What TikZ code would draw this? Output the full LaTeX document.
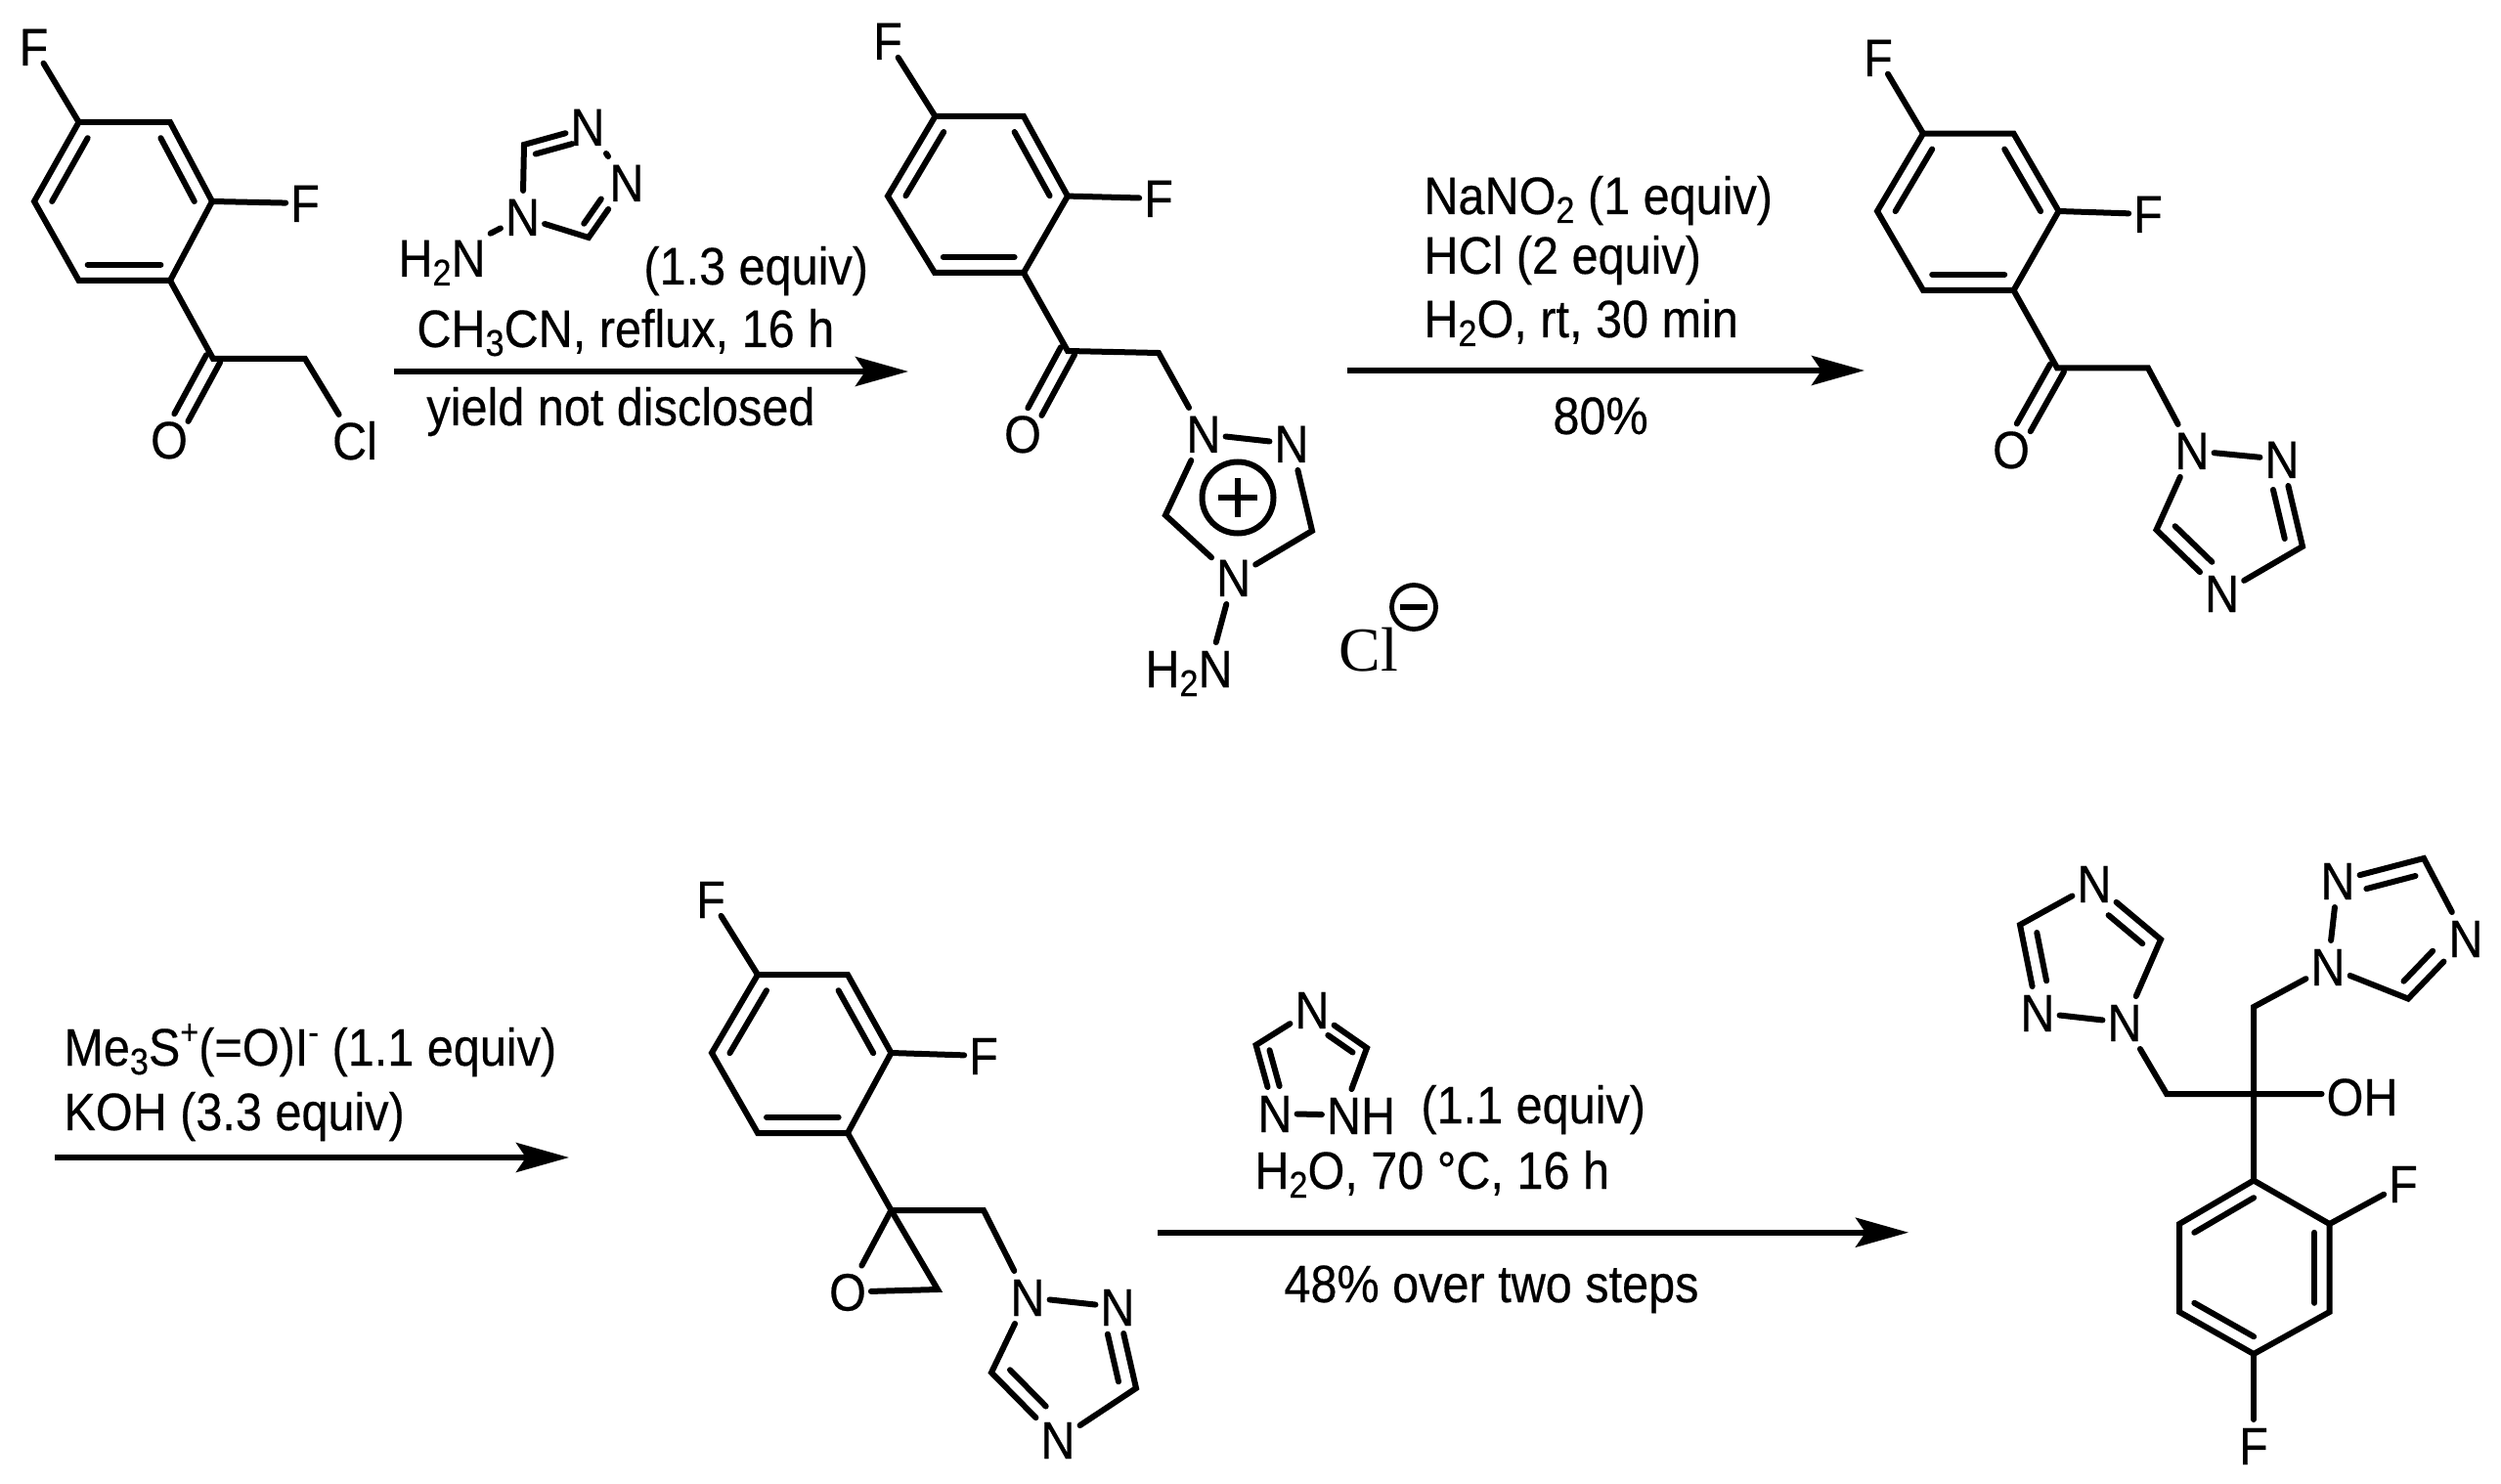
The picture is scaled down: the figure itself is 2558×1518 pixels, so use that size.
\documentclass[tikz,border=0pt]{standalone}
\usepackage{fontspec}
\setmainfont[FakeStretch=0.9,FakeBold=0.35]{Liberation Sans}
\newfontfamily\clfont{Liberation Serif}
\usetikzlibrary{calc,arrows.meta}
\newcommand{\mysub}[1]{\raisebox{-4.5pt}{\fontsize{19}{19}\selectfont #1}}
\newcommand{\mysup}[1]{\raisebox{11pt}{\fontsize{18}{18}\selectfont #1}}
% inner line of a double bond: from a, to b, pulled towards c by t, between fractions s and e
\newcommand{\innerbond}[6]{\draw[bond] ($($(#1)!#5!(#2)$)!#4!(#3)$) -- ($($(#1)!#6!(#2)$)!#4!(#3)$);}
\newcommand{\ringin}[3]{\innerbond{#1}{#2}{#3}{.2}{0}{1}}
\newcommand{\carbonyl}[2]{%
  \draw[bond,shorten >=13pt] ($(#1)!4pt!90:(#2)$) -- ($(#2)!4pt!-90:(#1)$);
  \draw[bond,shorten >=13pt] ($(#1)!4pt!-90:(#2)$) -- ($(#2)!4pt!90:(#1)$);}
\tikzset{
  bond/.style={line width=3pt,line cap=round,line join=miter},
  fbond/.style={bond,shorten >=-6pt},
  atom/.style={font=\fontsize{27}{27}\selectfont,inner xsep=2.5pt,inner ysep=4pt,text height=19pt,text depth=0pt,anchor=center,outer sep=0pt},
  label/.style={font=\fontsize{27}{27}\selectfont,inner sep=0pt,anchor=base west,yshift=-1.5pt},
  rxn/.style={line width=3pt,-{Stealth[length=27pt,width=15pt,inset=5pt]}},
  chargering/.style={circle,draw,inner sep=0pt,line width=3pt}
}
\begin{document}
\begin{tikzpicture}[x=.5pt,y=-.5pt]
\useasboundingbox (0,0) rectangle (2558,1518);
%%% molecule 1
\coordinate (a1) at (80.6,125); \coordinate (a2) at (174,125); \coordinate (a3) at (217,206);
\coordinate (a4) at (174,287); \coordinate (a5) at (80.6,287); \coordinate (a6) at (35,206);
\coordinate (ac) at (126,206); \coordinate (ak) at (218,367); \coordinate (am) at (312,367);
\node[atom] (aF1) at (34.5,48) {F};
\node[atom] (aF2) at (312,208) {F};
\node[atom] (aO) at (173,450) {O};
\node[atom] (aCl) at (363,451) {Cl};
\draw[bond] (a1)--(a2)--(a3)--(a4)--(a5)--(a6)--cycle;
\ringin{a1}{a6}{ac}\ringin{a2}{a3}{ac}\ringin{a4}{a5}{ac}
\draw[fbond] (a1)--(aF1);
\draw[bond] (a3)--(aF2);
\draw[bond] (a4)--(ak)--(am)--(aCl);
\carbonyl{ak}{aO}
%%% reagent 1
\coordinate (rc1) at (536,148); \coordinate (rc2) at (602,243); \coordinate (rc) at (583,186);
\node[atom] (rn1) at (601,130) {N};
\node[atom] (rn2) at (641,187) {N};
\node[atom] (rn3) at (534.5,222) {N};
\node[atom] (rh) at (452,264) {H\mysub{2}N};
\draw[bond] (rn3)--(rc1)--(rn1);
\draw[bond] (rn1)--(rn2);
\draw[bond] (rn2)--(rc2)--(rn3);
\draw[bond] (rn3)--(rh);
\innerbond{rc1}{rn1}{rc}{.25}{0}{.77}
\innerbond{rc2}{rn2}{rc}{.25}{0}{.6}
\node[label] (t1a) at (658,288) {(1.3 equiv)};
\node[label] (t1b) at (426,352) {CH\mysub{3}CN, reflux, 16 h};
\node[label] (t1c) at (436,432) {yield not disclosed};
\coordinate (ar1s) at (403,380); \coordinate (ar1e) at (929,380);
\draw[rxn] (ar1s)--(ar1e);
%%% molecule 2
\coordinate (b1) at (956.5,119); \coordinate (b2) at (1047,119); \coordinate (b3) at (1092,200.6);
\coordinate (b4) at (1047,279); \coordinate (b5) at (956,279); \coordinate (b6) at (908,200.6);
\coordinate (bc) at (1000,199); \coordinate (bk) at (1092,359); \coordinate (bm) at (1185,361);
\coordinate (bl) at (1192,527); \coordinate (br) at (1342,543);
\node[atom] (bF1) at (908,42) {F};
\node[atom] (bF2) at (1185,203) {F};
\node[atom] (bO) at (1046,444) {O};
\node[atom] (bn1) at (1231,444) {N};
\node[atom] (bn2) at (1321,454) {N};
\node[atom] (bn3) at (1261.6,591) {N};
\node[atom] (bh) at (1216,684) {H\mysub{2}N};
\draw[bond] (b1)--(b2)--(b3)--(b4)--(b5)--(b6)--cycle;
\ringin{b1}{b6}{bc}\ringin{b2}{b3}{bc}\ringin{b4}{b5}{bc}
\draw[fbond] (b1)--(bF1);
\draw[bond] (b3)--(bF2);
\draw[bond] (b4)--(bk)--(bm)--(bn1);
\carbonyl{bk}{bO}
\draw[bond] (bn1)--(bn2);
\draw[bond] (bn1)--(bl)--(bn3);
\draw[bond] (bn3)--(br)--(bn2);
\draw[bond] (bn3)--($(bh.north west)!.78!(bh.north east)$);
\node[chargering,minimum size=36.5pt] (bplus) at (1266,509) {};
\draw[line width=3pt] ($(bplus.west)!.25!(bplus.east)$)--($(bplus.west)!.75!(bplus.east)$);
\draw[line width=3pt] ($(bplus.north)!.25!(bplus.south)$)--($(bplus.north)!.75!(bplus.south)$);
\node[inner sep=0pt,anchor=base west,font=\clfont\fontsize{32}{32}\selectfont] (bCl) at (1369,686) {Cl};
\node[chargering,minimum size=22.5pt,line width=2.4pt] (bminus) at (1446,621) {};
\draw[line width=3pt] ($(bminus.west)!.22!(bminus.east)$)--($(bminus.west)!.78!(bminus.east)$);
%%% arrow 2
\node[label] (t2a) at (1456,216) {NaNO\mysub{2} (1 equiv)};
\node[label] (t2b) at (1456,277) {HCl (2 equiv)};
\node[label] (t2c) at (1456,342) {H\mysub{2}O, rt, 30 min};
\node[label] (t2d) at (1588,441) {80\%};
\coordinate (ar2s) at (1377.5,379); \coordinate (ar2e) at (1907,379);
\draw[rxn] (ar2s)--(ar2e);
%%% molecule 3
\coordinate (c1) at (1967,136.6); \coordinate (c2) at (2059.5,136.6); \coordinate (c3) at (2105.6,216);
\coordinate (c4) at (2059.5,297); \coordinate (c5) at (1967,297); \coordinate (c6) at (1920,216);
\coordinate (cc) at (2013,216.5); \coordinate (ck) at (2104,376.4); \coordinate (cm) at (2197,376.4);
\coordinate (cl) at (2205.5,542); \coordinate (cr) at (2355,559); \coordinate (ctc) at (2282,527);
\node[atom] (cF1) at (1921,59) {F};
\node[atom] (cF2) at (2197,219) {F};
\node[atom] (cO) at (2057,460) {O};
\node[atom] (cn1) at (2242,461) {N};
\node[atom] (cn2) at (2334,470) {N};
\node[atom] (cn3) at (2272.6,607) {N};
\draw[bond] (c1)--(c2)--(c3)--(c4)--(c5)--(c6)--cycle;
\ringin{c1}{c6}{cc}\ringin{c2}{c3}{cc}\ringin{c4}{c5}{cc}
\draw[fbond] (c1)--(cF1);
\draw[bond] (c3)--(cF2);
\draw[bond] (c4)--(ck)--(cm)--(cn1);
\carbonyl{ck}{cO}
\draw[bond] (cn1)--(cn2);
\draw[bond] (cn1)--(cl)--(cn3);
\draw[bond] (cn3)--(cr)--(cn2);
\innerbond{cl}{cn3}{ctc}{.25}{0}{.75}
\innerbond{cr}{cn2}{ctc}{.25}{0}{.75}
%%% arrow 3
\node[label] (t3a) at (65,1087) {Me\mysub{3}S\mysup{+}(=O)I\mysup{-} (1.1 equiv)};
\node[label] (t3b) at (65,1153) {KOH (3.3 equiv)};
\coordinate (ar3s) at (56,1184); \coordinate (ar3e) at (582,1184);
\draw[rxn] (ar3s)--(ar3e);
%%% molecule 4
\coordinate (d1) at (775,997); \coordinate (d2) at (867,997); \coordinate (d3) at (911.5,1077);
\coordinate (d4) at (867,1159); \coordinate (d5) at (775,1159); \coordinate (d6) at (728,1077);
\coordinate (dc) at (820,1078); \coordinate (ds) at (911.5,1238); \coordinate (dm) at (1006,1238);
\coordinate (de) at (959,1319); \coordinate (dl) at (1014,1404); \coordinate (dr) at (1162,1420);
\coordinate (dtc) at (1090,1393);
\node[atom] (dF1) at (727,920) {F};
\node[atom] (dF2) at (1006,1080) {F};
\node[atom] (dO) at (867,1321.6) {O};
\node[atom] (dn1) at (1051,1327) {N};
\node[atom] (dn2) at (1143,1337) {N};
\node[atom] (dn3) at (1082,1473) {N};
\draw[bond] (d1)--(d2)--(d3)--(d4)--(d5)--(d6)--cycle;
\ringin{d1}{d6}{dc}\ringin{d2}{d3}{dc}\ringin{d4}{d5}{dc}
\draw[fbond] (d1)--(dF1);
\draw[bond] (d3)--(dF2);
\draw[bond] (d4)--(ds)--(dm)--(dn1);
\draw[bond] (ds)--(dO);
\draw[bond] (dO)--(de)--(ds);
\draw[bond] (dn1)--(dn2);
\draw[bond] (dn1)--(dl)--(dn3);
\draw[bond] (dn3)--(dr)--(dn2);
\innerbond{dl}{dn3}{dtc}{.25}{0}{.72}
\innerbond{dr}{dn2}{dtc}{.25}{0}{.78}
%%% reagent 4
\coordinate (el) at (1284.6,1069); \coordinate (er) at (1398,1072); \coordinate (ec) at (1340,1090);
\node[atom] (en1) at (1342,1033) {N};
\node[atom] (en2) at (1304,1139) {N};
\node[atom] (enh) at (1392,1141) {NH};
\draw[bond] (en1)--(el)--(en2);
\draw[bond] (en1)--(er)--($(enh.north west)!.38!(enh.north east)$);
\draw[bond] (en2)--(enh);
\innerbond{el}{en2}{ec}{.25}{0}{.7}
\innerbond{er}{en1}{ec}{.25}{0}{.6}
\node[label] (t4a) at (1453,1146) {(1.1 equiv)};
\node[label] (t4b) at (1283,1213) {H\mysub{2}O, 70 °C, 16 h};
\node[label] (t4c) at (1313,1329) {48\% over two steps};
\coordinate (ar4s) at (1184,1260.7); \coordinate (ar4e) at (1952,1260.7);
\draw[rxn] (ar4s)--(ar4e);
%%% molecule 5
\coordinate (e1) at (2305,1207.5); \coordinate (e2) at (2382.6,1252); \coordinate (e3) at (2382.6,1342);
\coordinate (e4) at (2305,1385); \coordinate (e5) at (2229,1342); \coordinate (e6) at (2229,1252);
\coordinate (ecc) at (2305.5,1296); \coordinate (eq) at (2305,1119); \coordinate (em1) at (2216,1119);
\coordinate (em2) at (2305,1030);
\coordinate (fl) at (2066,946); \coordinate (fr) at (2210,961); \coordinate (fc) at (2135,978);
\coordinate (gt) at (2479,878); \coordinate (gb) at (2463,1021.6); \coordinate (gc) at (2445,950);
\node[atom] (eF1) at (2458,1211) {F};
\node[atom] (eF2) at (2305,1479) {F};
\node[atom] (eOH) at (2416,1122) {OH};
\node[atom] (fn1) at (2142,904) {N};
\node[atom] (fn2) at (2084,1036) {N};
\node[atom] (fn3) at (2173,1046) {N};
\node[atom] (gn1) at (2381,989) {N};
\node[atom] (gn2) at (2391,901) {N};
\node[atom] (gn3) at (2522,960) {N};
\draw[bond] (e1)--(e2)--(e3)--(e4)--(e5)--(e6)--cycle;
\ringin{e6}{e1}{ecc}\ringin{e2}{e3}{ecc}\ringin{e5}{e4}{ecc}
\draw[bond] (e2)--(eF1);
\draw[bond] (e4)--(eF2);
\draw[bond] (e1)--(eq)--(em2)--(gn1);
\draw[bond] (fn3)--(em1)--(eq)--(eq -| eOH.west);
\draw[bond] (fn1)--(fl)--(fn2);
\draw[bond] (fn2)--(fn3);
\draw[bond] (fn3)--(fr)--(fn1);
\innerbond{fl}{fn2}{fc}{.25}{0}{.73}
\innerbond{fr}{fn1}{fc}{.25}{0}{.68}
\draw[bond] (gn1)--(gn2);
\draw[bond] (gn2)--(gt)--(gn3);
\draw[bond] (gn3)--(gb)--(gn1);
\innerbond{gt}{gn2}{gc}{.25}{0}{.76}
\innerbond{gb}{gn3}{gc}{.25}{0}{.67}
\end{tikzpicture}
\end{document}
